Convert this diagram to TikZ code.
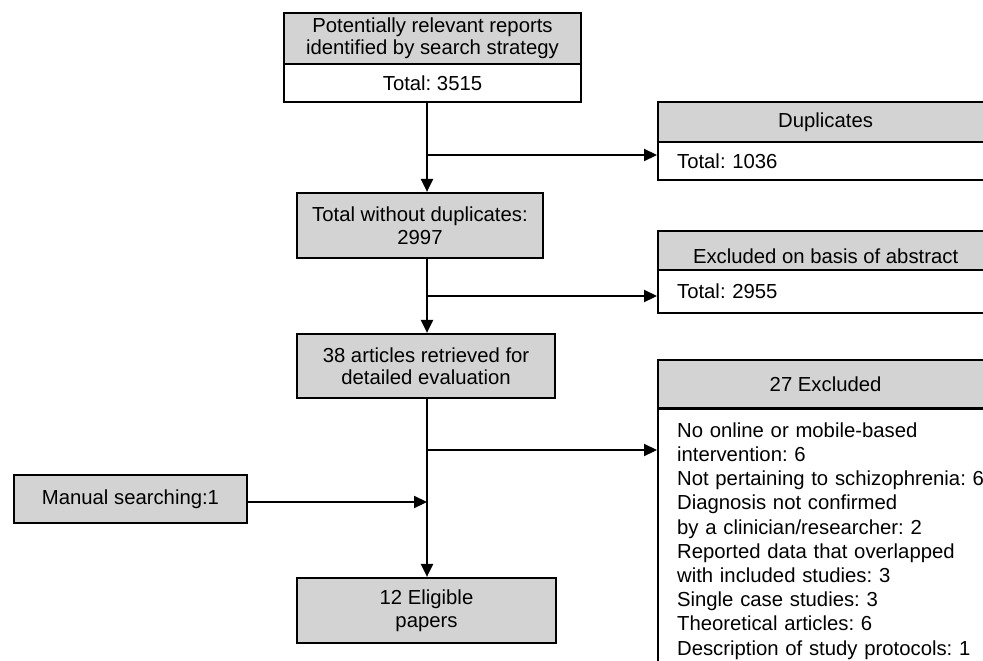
\documentclass[tikz,border=0pt]{standalone}
\usepackage{fontspec}
\setmainfont{Liberation Sans}
\usetikzlibrary{arrows.meta}
\definecolor{hdrgray}{RGB}{211,211,211}
\frenchspacing
\begin{document}
\begin{tikzpicture}[x=1pt,y=-1pt,
  every node/.style={font=\fontsize{20.3}{22.5}\selectfont},
  box/.style={draw=black, line width=2.2pt, inner sep=0pt, align=center},
  hdr/.style={box, fill=hdrgray},
  wbox/.style={box, fill=white},
  listbox/.style={draw=black, line width=2.2pt, fill=white, anchor=west,
    inner xsep=19pt, inner ysep=0pt, text width=316pt, align=left},
  arr/.style={line width=2.2pt, -{Triangle[length=13pt,width=12pt]}}]
\useasboundingbox (0,0) rectangle (983,661);
\clip (0,0) rectangle (983,661);
\fill[white] (0,0) rectangle (983,661);

% left / centre column
\node[hdr, minimum width=297pt, minimum height=51pt] (tophdr) at (432.5,38.5)
  {Potentially relevant reports\\identified by search strategy};
\node[wbox, minimum width=297pt, minimum height=38pt] (topbody) at (432.5,83)
  {Total: 3515};
\node[hdr, minimum width=246pt, minimum height=65pt] (nodup) at (420,225.5)
  {Total without duplicates:\\2997};
\node[hdr, minimum width=258pt, minimum height=64pt] (art) at (426,366)
  {38 articles retrieved for\\detailed evaluation};
\node[hdr, minimum width=233pt, minimum height=48pt] (manual) at (130.5,499)
  {Manual searching:1};
\node[hdr, minimum width=259pt, minimum height=65pt] (elig) at (426.5,610.5)
  {12 Eligible\\papers};

% right column
\node[hdr, anchor=west, minimum width=335pt, minimum height=40pt] (duphdr) at (657,122)
  {Duplicates};
\node[listbox, minimum height=38pt] (dupbody) at (657,161) {Total: 1036};
\node[hdr, anchor=west, minimum width=335pt, minimum height=39pt,
  text height=26.4pt, text depth=0pt] (abshdr) at (657,250.5)
  {Excluded on basis of abstract};
\node[listbox, minimum height=43pt] (absbody) at (657,291.5) {Total: 2955};
\node[hdr, anchor=west, minimum width=335pt, minimum height=48pt] (exhdr) at (657,384)
  {27 Excluded};
\node[listbox, anchor=north west, inner ysep=13.5pt,
  font=\fontsize{20.3}{24.2}\selectfont] (exbody) at (657,408)
  {No online or mobile-based\\
   intervention: 6\\
   Not pertaining to schizophrenia: 6\\
   Diagnosis not confirmed\\
   by a clinician/researcher: 2\\
   Reported data that overlapped\\
   with included studies: 3\\
   Single case studies: 3\\
   Theoretical articles: 6\\
   Description of study protocols: 1};

% spine and junctions
\coordinate (sp) at (427,0);
\coordinate (j1) at (427,155);
\coordinate (j2) at (427,296);
\coordinate (j3) at (427,450);
\coordinate (j4) at (427,502);

\draw[arr] (topbody.south -| sp) -- (nodup.north -| sp);
\draw[arr] (j1) -- (j1 -| dupbody.west);
\draw[arr] (nodup.south -| sp) -- (art.north -| sp);
\draw[arr] (j2) -- (j2 -| absbody.west);
\draw[arr] (art.south -| sp) -- (elig.north -| sp);
\draw[arr] (j3) -- (j3 -| exbody.west);
\draw[arr] (j4 -| manual.east) -- (j4);
\end{tikzpicture}
\end{document}
